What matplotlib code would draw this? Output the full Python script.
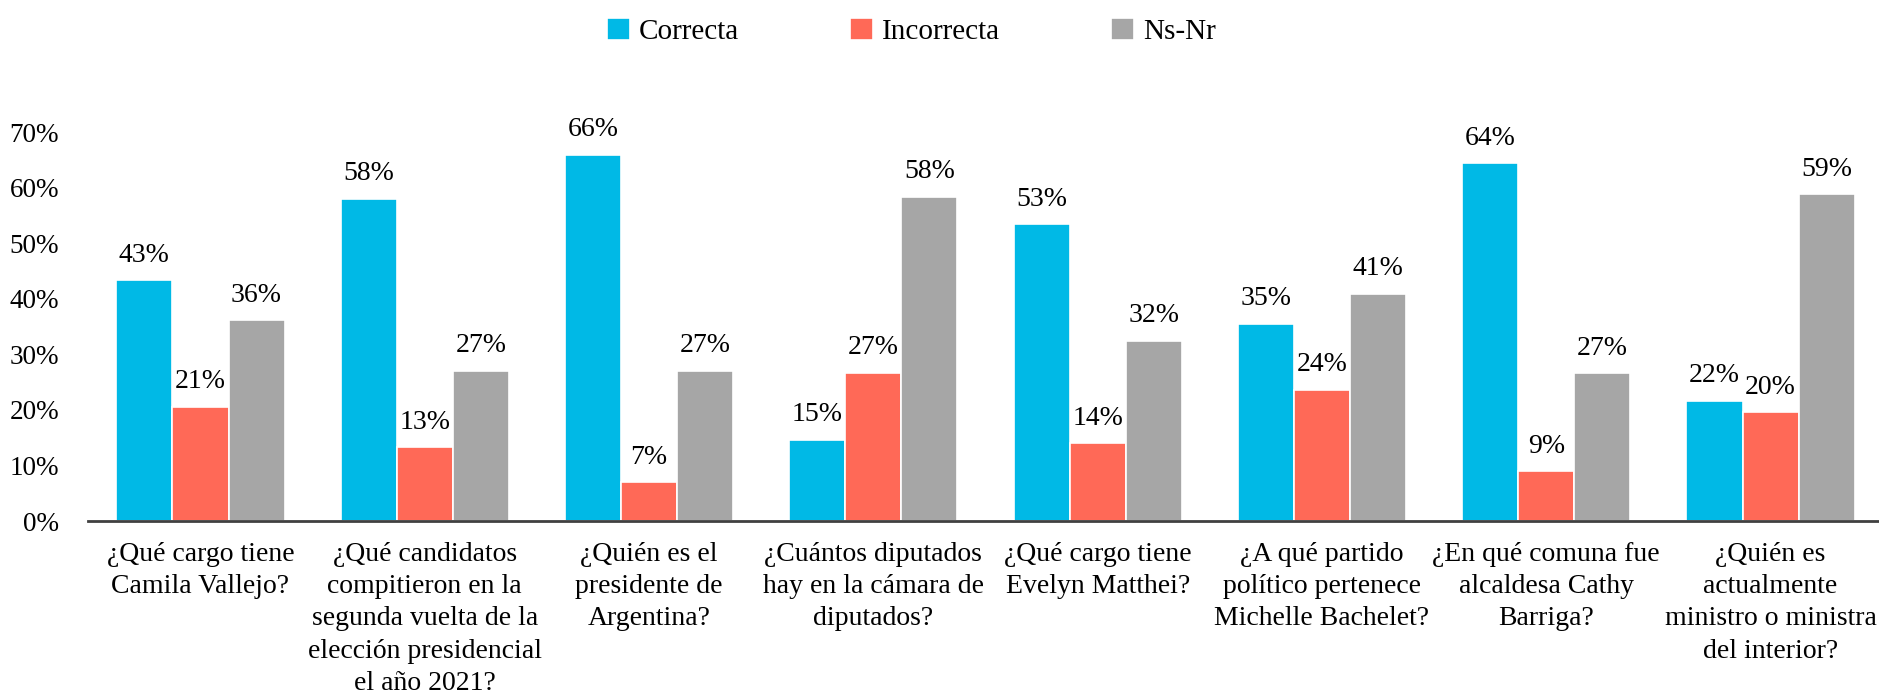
import numpy as np
import matplotlib
matplotlib.use('Agg')
import matplotlib.pyplot as plt

# --- DATOS ---
preguntas = [
    '¿Qué cargo tiene\nCamila Vallejo?',
    '¿Qué candidatos\ncompitieron en la\nsegunda vuelta de la\nelección presidencial\nel año 2021?',
    '¿Quién es el\npresidente de\nArgentina?',
    '¿Cuántos diputados\nhay en la cámara de\ndiputados?',
    '¿Qué cargo tiene\nEvelyn Matthei?',
    '¿A qué partido\npolítico pertenece\nMichelle Bachelet?',
    '¿En qué comuna fue\nalcaldesa Cathy\nBarriga?',
    '¿Quién es\nactualmente\nministro o ministra\ndel interior?',
]
series = ['Correcta', 'Incorrecta', 'Ns-Nr']
correcta = [43.3, 58.0, 65.9, 14.6, 53.4, 35.5, 64.4, 21.6]
incorrecta = [20.6, 13.3, 7.0, 26.7, 14.0, 23.6, 9.0, 19.6]
nsnr = [36.1, 27.0, 27.0, 58.4, 32.4, 40.9, 26.6, 58.8]
etiquetas = [
    ['43%', '58%', '66%', '15%', '53%', '35%', '64%', '22%'],
    ['21%', '13%', '7%', '27%', '14%', '24%', '9%', '20%'],
    ['36%', '27%', '27%', '58%', '32%', '41%', '27%', '59%'],
]
yticks = [0, 10, 20, 30, 40, 50, 60, 70]

colores = ['#00B9E6', '#FF6957', '#A6A6A6']

plt.rcParams['font.family'] = ['Liberation Serif', 'DejaVu Serif']

fig = plt.figure(figsize=(18.79, 6.97), dpi=100)
ax = fig.add_axes([0.047, 0.2525, 0.955, 0.558])

x = np.arange(len(preguntas))
w = 0.25
valores = [correcta, incorrecta, nsnr]
for i, (vals, nombre, c) in enumerate(zip(valores, series, colores)):
    bars = ax.bar(x + (i - 1) * w, vals, width=w, color=c, edgecolor='white',
                  linewidth=1.2, label=nombre)
    for b, txt in zip(bars, etiquetas[i]):
        ax.annotate(txt, (b.get_x() + b.get_width() / 2, b.get_height()),
                    xytext=(0, 9), textcoords='offset points',
                    ha='center', va='bottom', fontsize=20, color='black')

ax.set_xlim(-0.5, len(preguntas) - 0.5)
ax.set_ylim(0, 70)
ax.set_yticks(yticks)
ax.set_yticklabels([f'{v}%' for v in yticks], fontsize=19.5)
ax.set_xticks(x)
ax.set_xticklabels(preguntas, fontsize=20, linespacing=1.38)
ax.tick_params(axis='y', length=0, pad=21)
ax.tick_params(axis='x', length=0, pad=15)

for s in ['top', 'right', 'left']:
    ax.spines[s].set_visible(False)
ax.spines['bottom'].set_color('#404040')
ax.spines['bottom'].set_linewidth(2)

fig.legend(loc='upper center', bbox_to_anchor=(0.485, 1.012), ncol=3, frameon=False,
           fontsize=21, handlelength=0.8, handleheight=0.8, handletextpad=0.3,
           columnspacing=3.8)

plt.savefig('out.png', dpi=100)
